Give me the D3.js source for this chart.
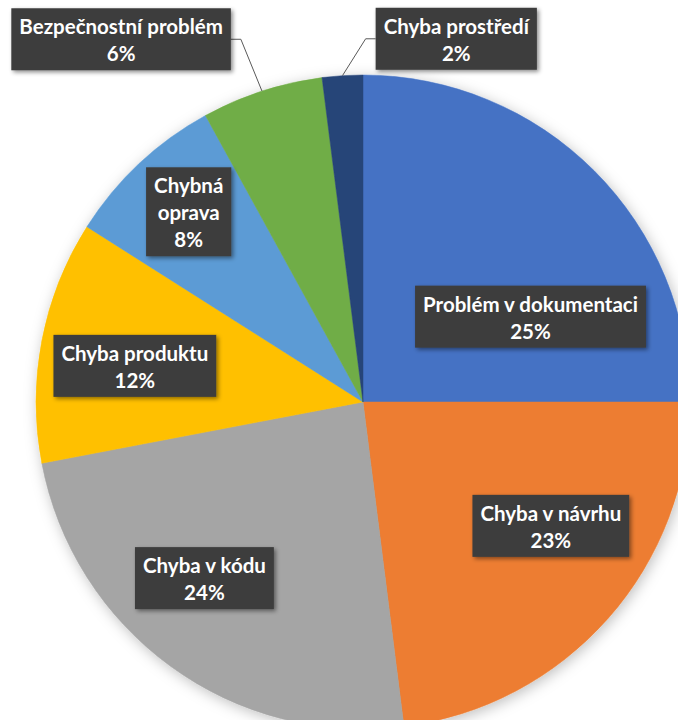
<!DOCTYPE html>
<meta charset="utf-8">
<script src="https://d3js.org/d3.v7.min.js"></script>
<style>
  body { margin: 0; background: #fff; }
  text { font-family: Lato, "Open Sans", sans-serif; font-weight: bold; fill: #fff; }
</style>
<svg id="chart" width="678" height="720"></svg>
<script>

// data
var categories = ["Problém v dokumentaci", "Chyba v návrhu", "Chyba v kódu", "Chyba produktu",
                  "Chybná oprava", "Bezpečnostní problém", "Chyba prostředí"];
var values = [25, 23, 24, 12, 8, 6, 2];
var colors = ["#4472C4", "#ED7D31", "#A5A5A5", "#FFC000", "#5B9BD5", "#70AD47", "#264478"];
// label text lines (Chybná oprava is wrapped in the original)
var labelLines = [["Problém v dokumentaci"], ["Chyba v návrhu"], ["Chyba v kódu"], ["Chyba produktu"],
                  ["Chybná", "oprava"], ["Bezpečnostní problém"], ["Chyba prostředí"]];
// label placement: angle from 12 o'clock (deg) and distance from centre
var labelAngle = [63, 123.4, 222, 279, 317.5, 326.3, 14.4];
var labelDist = [188, 225, 237, 231, 258, 436, 375];
var outside = [false, false, false, false, false, true, true];

var svg = d3.select("#chart"),
    cx = 363, cy = 402, R = 327;

var defs = svg.append("defs");
defs.append("filter").attr("id", "pieShadow")
    .attr("x", "-20%").attr("y", "-20%").attr("width", "140%").attr("height", "140%")
  .append("feDropShadow")
    .attr("dx", 2).attr("dy", 3).attr("stdDeviation", 7)
    .attr("flood-color", "#000").attr("flood-opacity", 0.25);
defs.append("filter").attr("id", "boxShadow")
    .attr("x", "-20%").attr("y", "-20%").attr("width", "140%").attr("height", "140%")
  .append("feDropShadow")
    .attr("dx", 2).attr("dy", 2).attr("stdDeviation", 2)
    .attr("flood-color", "#000").attr("flood-opacity", 0.45);

var pie = d3.pie().sort(null).value(function(d) { return d; });
var arc = d3.arc().innerRadius(0).outerRadius(R);
var arcs = pie(values);

var g = svg.append("g").attr("transform", "translate(" + cx + "," + cy + ")");

g.append("g").attr("filter", "url(#pieShadow)")
  .selectAll("path")
  .data(arcs)
  .enter()
  .append("path")
    .attr("d", arc)
    .attr("fill", function(d, i) { return colors[i]; })
    .attr("stroke", function(d, i) { return colors[i]; })
    .attr("stroke-width", 0.5);

var total = d3.sum(values);
var lineH = 27, fontSize = 20.5, padX = 8;

// leader lines for outside labels
arcs.forEach(function(d, i) {
  if (!outside[i]) return;
  var mid = (d.startAngle + d.endAngle) / 2;
  var px = R * Math.sin(mid), py = -R * Math.cos(mid);
  var a = labelAngle[i] * Math.PI / 180;
  var lx = labelDist[i] * Math.sin(a), ly = -labelDist[i] * Math.cos(a);
  d.leader = { px: px, py: py, lx: lx, ly: ly };
});

var labels = g.selectAll(".lab")
  .data(arcs)
  .enter()
  .append("g")
    .attr("class", "lab")
    .attr("transform", function(d, i) {
      var a = labelAngle[i] * Math.PI / 180;
      return "translate(" + (labelDist[i] * Math.sin(a)) + "," + (-labelDist[i] * Math.cos(a)) + ")";
    });

labels.each(function(d, i) {
  var sel = d3.select(this);
  var lines = labelLines[i].concat([Math.round(values[i] / total * 100) + "%"]);
  var h = lines.length * lineH + 8;
  var rect = sel.append("rect").attr("fill", "#3d3d3d").attr("filter", "url(#boxShadow)");
  var maxW = 0;
  lines.forEach(function(t, k) {
    var txt = sel.append("text")
      .attr("text-anchor", "middle")
      .attr("font-size", fontSize)
      .attr("x", 0)
      .attr("y", -h / 2 + 26 + k * lineH)
      .text(t);
    maxW = Math.max(maxW, txt.node().getComputedTextLength());
  });
  var w = maxW + 2 * padX;
  rect.attr("x", -w / 2).attr("y", -h / 2).attr("width", w).attr("height", h);
  d.boxW = w;
});

// draw leaders after boxes are sized
arcs.forEach(function(d, i) {
  if (!d.leader) return;
  var L = d.leader;
  var side = L.lx < L.px ? 1 : -1;      // box sits left (1) or right (-1) of the point
  var edgeX = L.lx + side * d.boxW / 2;
  var knee = edgeX + side * 10;
  g.insert("path", ".lab")
    .attr("d", "M" + L.px + "," + L.py + "L" + knee + "," + L.ly + "L" + edgeX + "," + L.ly)
    .attr("fill", "none")
    .attr("stroke", "#595959")
    .attr("stroke-width", 1);
});

</script>
